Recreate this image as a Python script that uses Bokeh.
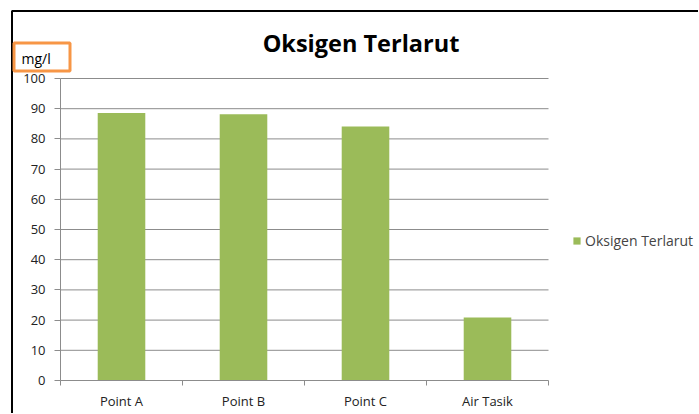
from bokeh.plotting import figure
from bokeh.models import (ColumnDataSource, FixedTicker, LinearAxis, Label,
                          BoxAnnotation, Range1d, Legend, LegendItem)
from bokeh.embed import file_html
from bokeh.resources import INLINE

# ---- data ----
categories = ["Point A", "Point B", "Point C", "Air Tasik"]
values = [88.6, 88.2, 84.1, 20.9]
series_name = "Oksigen Terlarut"
y_ticks = [0, 10, 20, 30, 40, 50, 60, 70, 80, 90, 100]
title_text = "Oksigen Terlarut"
unit_text = "mg/l"

# ---- style / layout ----
FONT = "Open Sans"
GREEN = "#9BBB59"
GRID = "#8C8C8C"
W, H = 698, 413
# plot area in canvas pixels
PL, PR, PT, PB = 60, 548, 78, 380
YMIN, YMAX = 0, 100
n = len(categories)

xs = [i + 0.5 for i in range(n)]
src = ColumnDataSource(dict(x=xs, top=values, cat=categories))

xscale = (PR - PL) / n
yscale = (PB - PT) / (YMAX - YMIN)
x_range = Range1d(0 - PL / xscale, n + (W - PR) / xscale)
y_range = Range1d(YMIN - (H - PB) / yscale, YMAX + PT / yscale)

p = figure(width=W, height=H, output_backend="svg", toolbar_location=None,
           x_range=x_range, y_range=y_range,
           x_axis_type=None, y_axis_type=None,
           min_border_left=0, min_border_right=0, min_border_top=0,
           min_border_bottom=0)
p.outline_line_color = None
p.background_fill_color = "white"
p.border_fill_color = "white"
p.xgrid.visible = False
p.ygrid.visible = False

# horizontal gridlines across the plot area
grid_src = ColumnDataSource(dict(y=[t for t in y_ticks if t != 0]))
p.segment(x0=0, x1=n, y0="y", y1="y", source=grid_src,
          line_color=GRID, line_width=1)

r = p.vbar(x="x", top="top", width=0.39, bottom=0, source=src,
           fill_color=GREEN, line_color=None)

# y axis
yax = LinearAxis(ticker=FixedTicker(ticks=y_ticks), fixed_location=0,
                 bounds=(YMIN, YMAX))
yax.axis_line_color = GRID
yax.major_tick_line_color = GRID
yax.major_tick_out = 6
yax.major_tick_in = 0
yax.minor_tick_line_color = None
yax.major_label_text_font = FONT
yax.major_label_text_font_size = "13px"
yax.major_label_text_color = "#222222"
yax.major_label_standoff = 9
p.add_layout(yax, "left")

# x axis: labels at centres, tick marks at category boundaries
xax = LinearAxis(ticker=FixedTicker(ticks=xs, minor_ticks=list(range(n + 1))),
                 fixed_location=0, bounds=(0, n))
xax.major_label_overrides = {x: c for x, c in zip(xs, categories)}
xax.axis_line_color = GRID
xax.major_tick_line_color = None
xax.major_tick_out = 0
xax.major_tick_in = 0
xax.minor_tick_line_color = GRID
xax.minor_tick_out = 5
xax.minor_tick_in = 0
xax.major_label_text_font = FONT
xax.major_label_text_font_size = "13px"
xax.major_label_text_color = "#222222"
xax.major_label_standoff = 6
p.add_layout(xax, "below")

# outer chart border (top + left)
p.add_layout(BoxAnnotation(left=11.5, right=3000, top=10.5, bottom=3000,
                           left_units="canvas", right_units="canvas",
                           top_units="canvas", bottom_units="canvas",
                           fill_alpha=0, line_alpha=1, line_color="black",
                           line_width=2, level="overlay"))

# orange unit box
p.add_layout(BoxAnnotation(left=13.5, right=69.5, top=42.5, bottom=70.5,
                           left_units="canvas", right_units="canvas",
                           top_units="canvas", bottom_units="canvas",
                           fill_alpha=0, line_alpha=1, line_color="#F79646",
                           line_width=3, level="overlay"))
p.add_layout(Label(x=21, y=58, x_units="canvas", y_units="canvas",
                   text=unit_text, text_font=FONT, text_font_size="14px",
                   text_color="black", text_baseline="alphabetic"))

# title
p.add_layout(Label(x=360.5, y=42, x_units="canvas", y_units="canvas",
                   text=title_text, text_font=FONT, text_font_style="bold",
                   text_font_size="23.5px", text_color="black",
                   text_align="center", text_baseline="alphabetic"))

legend = Legend(items=[LegendItem(label=series_name, renderers=[r])],
                location=(572, 163), border_line_color=None,
                background_fill_alpha=0, label_text_font=FONT,
                label_text_font_size="14px", glyph_width=9, glyph_height=9,
                label_standoff=4, padding=0, margin=0)
p.add_layout(legend)

open("out.html", "w").write(file_html(p, INLINE))
